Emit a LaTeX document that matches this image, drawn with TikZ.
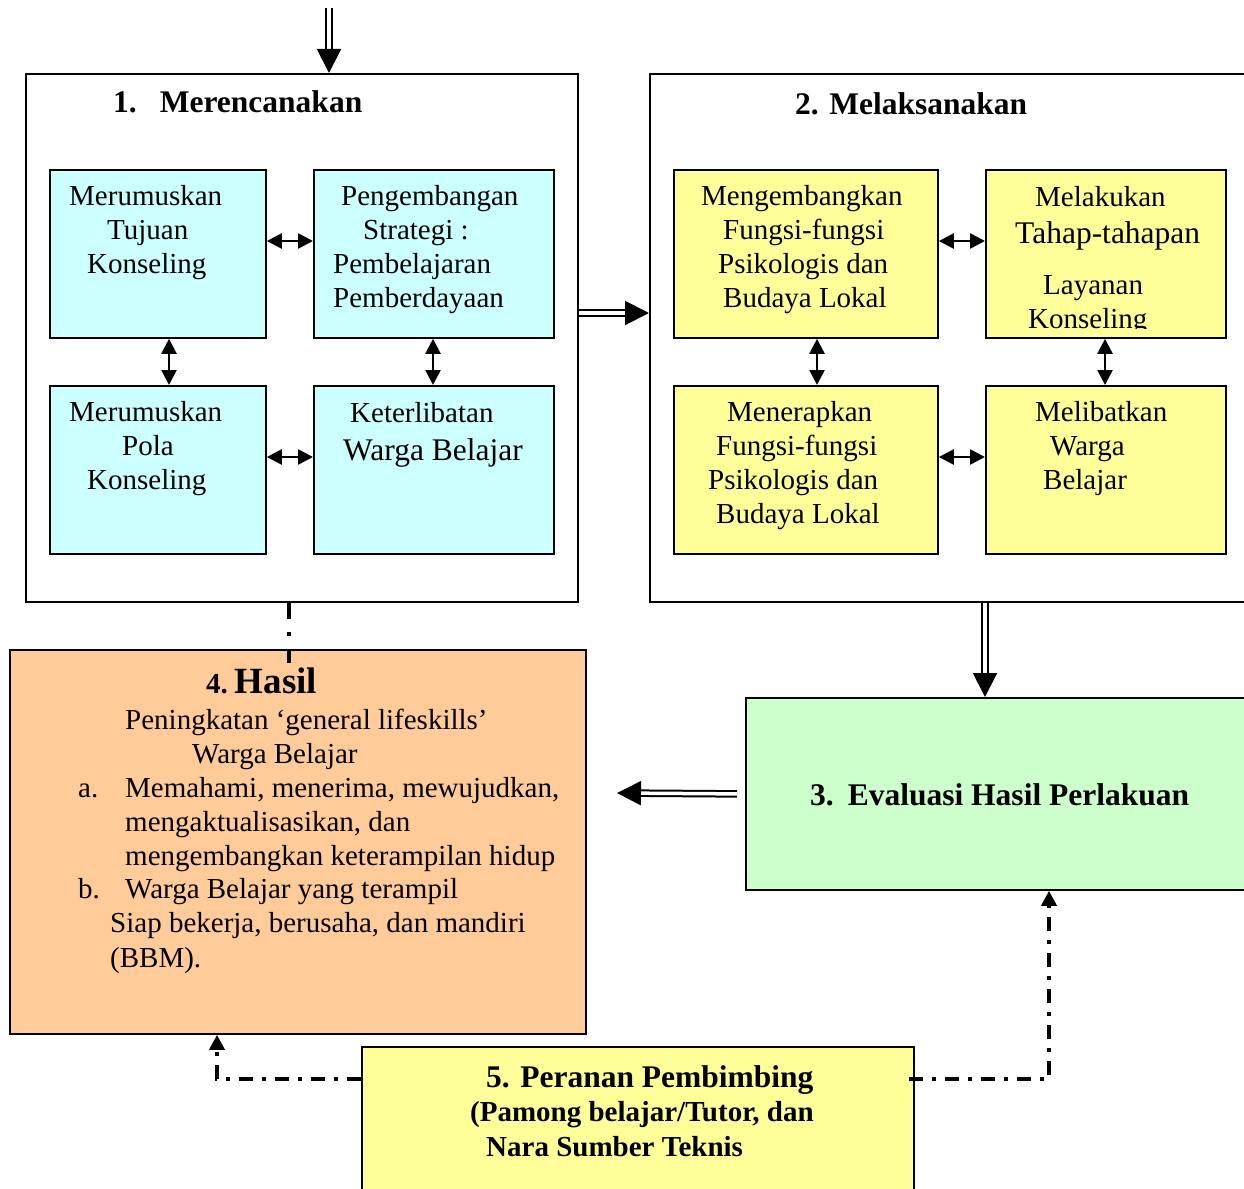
\documentclass[tikz,border=0pt]{standalone}
\usepackage{fontspec}
\setmainfont{Liberation Serif}
\usetikzlibrary{arrows.meta}
\definecolor{cyanbox}{HTML}{CCFFFF}
\definecolor{yelbox}{HTML}{FFFF99}
\definecolor{peach}{HTML}{FFCC99}
\definecolor{mint}{HTML}{CCFFCC}
\newcommand{\tx}{\fontsize{29}{34}\selectfont}
\newcommand{\tbig}{\fontsize{31.5}{37}\selectfont}
\newcommand{\hb}{\fontsize{31.5}{37}\selectfont\bfseries}
\begin{document}
\begin{tikzpicture}[x=1pt,y=-1pt,
  frame/.style={draw, line width=1.8pt, inner sep=0, anchor=north west},
  inbox/.style={draw, line width=1.8pt, inner sep=0, anchor=north west, minimum width=#1},
  txt/.style={inner sep=0, font=\tx},
  ttl/.style={inner sep=0, font=\hb, anchor=base west},
  ln/.style={inner sep=0, font=\tx, anchor=base west},
  dbl/.style={double, double distance=3.5pt, line width=2pt, -{Triangle[length=24pt,width=24pt]}},
  sarr/.style={line width=2.4pt, {Triangle[length=15pt,width=15pt]}-{Triangle[length=15pt,width=15pt]}},
  dd/.style={line width=3.6pt, dash pattern=on 14pt off 9pt on 4pt off 9pt},
  tipa/.style={-{Triangle[length=15pt,width=15pt]}}
]
\useasboundingbox (0,0) rectangle (1244,1188);
\clip (0,0) rectangle (1244,1188);

% outer frames
\node[frame, minimum width=552, minimum height=528] (b1) at (25,73) {};
\node[frame, minimum width=620, minimum height=528] (b2) at (649,73) {};

% planning boxes
\node[inbox=216, minimum height=168, fill=cyanbox] (c1) at (49,169) {};
\node[inbox=240, minimum height=168, fill=cyanbox] (c2) at (313,169) {};
\node[inbox=216, minimum height=168, fill=cyanbox] (c3) at (49,385) {};
\node[inbox=240, minimum height=168, fill=cyanbox] (c4) at (313,385) {};

% doing boxes
\node[inbox=264, minimum height=168, fill=yelbox] (y1) at (673,169) {};
\node[inbox=240, minimum height=168, fill=yelbox] (y2) at (985,169) {};
\node[inbox=264, minimum height=168, fill=yelbox] (y3) at (673,385) {};
\node[inbox=240, minimum height=168, fill=yelbox] (y4) at (985,385) {};

% result, evaluation, role boxes
\node[frame, minimum width=576, minimum height=384, fill=peach] (has) at (9,649) {};
\node[frame, minimum width=530, minimum height=192, fill=mint] (ev) at (745,697) {};
\node[frame, minimum width=552, minimum height=170, fill=yelbox] (pr) at (361,1046) {};

% titles
\node[ttl] (t1) at (113,113) {1.\hspace{23pt}Merencanakan};
\node[ttl] (t2) at (795,114) {2. Melaksanakan};

% planning texts
\node[txt, align=left, anchor=west] (tc1) at (69,233) {Merumuskan\\\hspace*{38pt}Tujuan\\\hspace*{18pt}Konseling};
\node[txt, align=left, anchor=west] (tc2) at (333,250) {\hspace*{8pt}Pengembangan\\\hspace*{30pt}Strategi :\\Pembelajaran\\Pemberdayaan};
\node[txt, align=left, anchor=west] (tc3) at (69,449) {Merumuskan\\\hspace*{53pt}Pola\\\hspace*{18pt}Konseling};
\node[ln] (tc4a) at (350,422) {Keterlibatan};
\node[ln, font=\tbig] (tc4b) at (343,460) {Warga Belajar};

% doing texts
\node[txt, align=left, anchor=west] (ty1) at (701,250) {Mengembangkan\\\hspace*{22pt}Fungsi-fungsi\\\hspace*{17pt}Psikologis dan\\\hspace*{22pt}Budaya Lokal};
\node[ln] (ty2a) at (1035,206) {Melakukan};
\node[ln, font=\tbig] (ty2b) at (1015,243) {Tahap-tahapan};
\node[ln] (ty2c) at (1043,294) {Layanan};
\begin{scope}
\clip (985,169) rectangle (1225,328);
\node[ln] (ty2d) at (1028,328) {Konseling};
\end{scope}
\node[txt, align=left, anchor=west] (ty3) at (708,466) {\hspace*{19pt}Menerapkan\\\hspace*{8pt}Fungsi-fungsi\\Psikologis dan\\\hspace*{8pt}Budaya Lokal};
\node[txt, align=left, anchor=west] (ty4) at (1035,449) {Melibatkan\\\hspace*{15pt}Warga\\\hspace*{8pt}Belajar};

% result texts
\node[inner sep=0, anchor=base west] (th) at (206,693) {{\fontsize{29}{34}\selectfont\bfseries 4.}\hspace{7pt}{\fontsize{37}{40}\selectfont\bfseries Hasil}};
\node[ln] (h1) at (125,729) {Peningkatan ‘general lifeskills’};
\node[ln] (h2) at (192,763) {Warga Belajar};
\node[ln] (ha) at (78,797) {a.};
\node[ln] (h3) at (125,797) {Memahami, menerima, mewujudkan,};
\node[ln] (h4) at (125,831) {mengaktualisasikan, dan};
\node[ln] (h5) at (125,865) {mengembangkan keterampilan hidup};
\node[ln] (hb) at (78,898) {b.};
\node[ln] (h6) at (125,898) {Warga Belajar yang terampil};
\node[ln] (h7) at (110,932) {Siap bekerja, berusaha, dan mandiri};
\node[ln] (h8) at (110,967) {(BBM).};

% evaluation and role texts
\node[ttl] (te) at (810,805) {3.\hspace{14pt}Evaluasi Hasil Perlakuan};
\node[ttl] (tp1) at (486,1087) {5. Peranan Pembimbing};
\node[ln, font=\tx\bfseries] (tp2) at (470,1121) {(Pamong belajar/Tutor, dan};
\node[ln, font=\tx\bfseries] (tp3) at (486,1156) {Nara Sumber Teknis};

% main double arrows
\coordinate (topin) at (329,8);
\draw[dbl] (topin) -- (topin |- b1.north);
\draw[dbl] (b1.east |- 0,313) -- (b2.west |- 0,313);
\draw[dbl] (b2.south -| 985,0) -- (ev.north -| 985,0);
\coordinate (harr) at (617,793);
\draw[dbl] ([xshift=-8pt]ev.west) -- (harr);

% small two-way arrows
\draw[sarr] (c1.east |- 0,241) -- (c2.west |- 0,241);
\draw[sarr] (c3.east |- 0,457) -- (c4.west |- 0,457);
\draw[sarr] (c1.south -| 169,0) -- (c3.north -| 169,0);
\draw[sarr] (c2.south -| 433,0) -- (c4.north -| 433,0);
\draw[sarr] (y1.east |- 0,241) -- (y2.west |- 0,241);
\draw[sarr] (y3.east |- 0,457) -- (y4.west |- 0,457);
\draw[sarr] (y1.south -| 817,0) -- (y3.north -| 817,0);
\draw[sarr] (y2.south -| 1105,0) -- (y4.north -| 1105,0);

% dash-dot connectors
\coordinate (hd) at (289,663);
\draw[dd, dash pattern=on 16pt off 13pt on 4pt off 13pt] (b1.south -| hd) -- (hd);
\draw[dd, tipa] (pr.west |- 0,1079) -| (has.south -| 217,0);
\draw[dd, tipa] ([xshift=-6pt]pr.east |- 0,1079) -| (ev.south -| 1049,0);
\end{tikzpicture}
\end{document}
